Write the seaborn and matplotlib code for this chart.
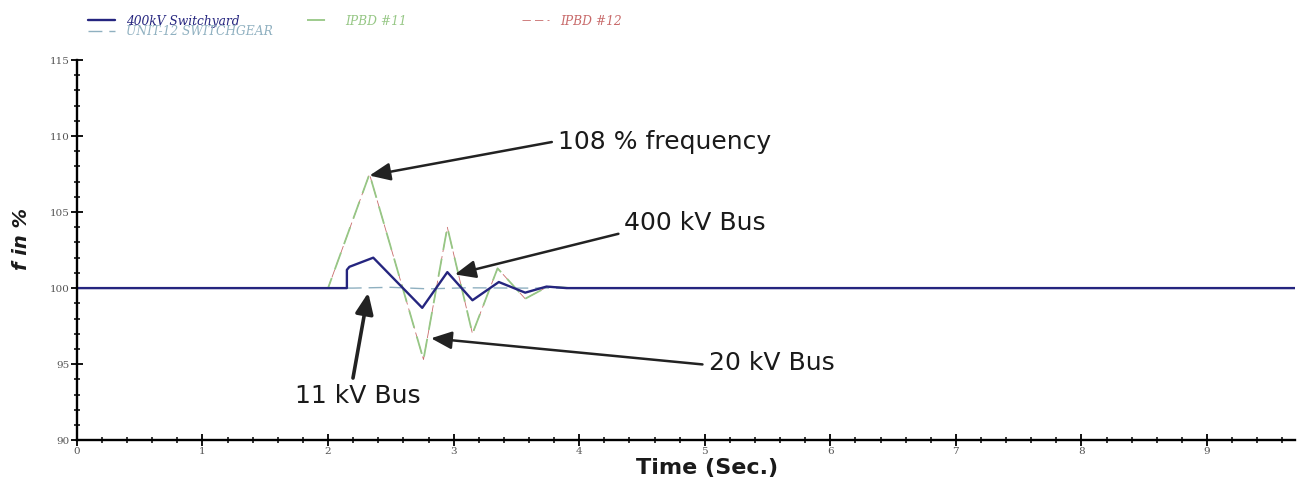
import numpy as np
import pandas as pd
import matplotlib
matplotlib.use("Agg")
import matplotlib.pyplot as plt
from matplotlib.ticker import MultipleLocator
import seaborn as sns

# ---- data ----
t_400kv = [0.0, 2.15, 2.15, 2.17, 2.36, 2.75, 2.95, 3.15, 3.36, 3.57, 3.74, 3.90, 9.70]
f_400kv = [100.0, 100.0, 101.2, 101.4, 102.0, 98.7, 101.05, 99.2, 100.4, 99.7, 100.1, 100.0, 100.0]

t_unit12 = [0.0, 2.2, 2.5, 2.8, 3.1, 3.5, 9.70]
f_unit12 = [100.0, 100.0, 100.05, 99.95, 100.02, 100.0, 100.0]

t_ipbd11 = [0.0, 2.00, 2.33, 2.76, 2.95, 3.15, 3.35, 3.57, 3.75, 3.95, 9.70]
f_ipbd11 = [100.0, 100.0, 107.5, 95.3, 104.0, 97.0, 101.3, 99.3, 100.1, 100.0, 100.0]

t_ipbd12 = [0.0, 2.00, 2.33, 2.76, 2.95, 3.15, 3.35, 3.57, 3.75, 3.95, 9.70]
f_ipbd12 = [100.0, 100.0, 107.5, 95.3, 104.0, 97.0, 101.3, 99.3, 100.1, 100.0, 100.0]

x_ticks = [0, 1, 2, 3, 4, 5, 6, 7, 8, 9]
y_ticks = [90, 95, 100, 105, 110, 115]

annotations = [
    # label, target (t, f), text position (t, f)
    ("108 % frequency", (2.33, 107.4), (3.83, 109.6)),
    ("400 kV Bus", (3.01, 100.9), (4.36, 104.3)),
    ("20 kV Bus", (2.82, 96.7), (5.03, 95.1)),
    ("11 kV Bus", (2.32, 99.7), (2.24, 92.9)),
]

sns.set_theme(style="white")
plt.rcParams["font.family"] = ["DejaVu Sans"]

fig = plt.figure(figsize=(13.04, 4.8), dpi=100)
ax = fig.add_axes([0.059, 0.083, 0.934, 0.792])

df12 = pd.DataFrame({"t": t_ipbd12, "f": f_ipbd12})
df11 = pd.DataFrame({"t": t_ipbd11, "f": f_ipbd11})
dfu = pd.DataFrame({"t": t_unit12, "f": f_unit12})
df4 = pd.DataFrame({"t": t_400kv, "f": f_400kv})

dash = (0, (10, 5))
sns.lineplot(data=df12, x="t", y="f", ax=ax, estimator=None, sort=False,
             color="#c86a6a", lw=0.6, linestyle=dash, label="IPBD #12")
sns.lineplot(data=df11, x="t", y="f", ax=ax, estimator=None, sort=False,
             color="#96c785", lw=1.3, linestyle=dash, label="IPBD #11")
sns.lineplot(data=dfu, x="t", y="f", ax=ax, estimator=None, sort=False,
             color="#8fb0c0", lw=1.0, linestyle=dash, label="UNIT-12 SWITCHGEAR")
sns.lineplot(data=df4, x="t", y="f", ax=ax, estimator=None, sort=False,
             color="#25257f", lw=1.7, label="400kV Switchyard")

ax.get_legend().remove()
handles, labels = ax.get_legend_handles_labels()
hmap = dict(zip(labels, handles))

leg_kw = dict(frameon=False, prop={"family": "DejaVu Serif", "style": "italic", "size": 8.8},
              labelcolor="linecolor", handlelength=2.2, handletextpad=0.9,
              labelspacing=-0.2, borderpad=0, loc="upper left")
fig.legend([hmap["400kV Switchyard"], hmap["UNIT-12 SWITCHGEAR"]],
           ["400kV Switchyard", "UNIT-12 SWITCHGEAR"], bbox_to_anchor=(0.063, 0.982), **leg_kw)
fig.legend([hmap["IPBD #11"]], ["IPBD #11"], bbox_to_anchor=(0.231, 0.982), **leg_kw)
fig.legend([hmap["IPBD #12"]], ["IPBD #12"], bbox_to_anchor=(0.396, 0.982), **leg_kw)

ax.set_xlim(0, 9.7)
ax.set_ylim(90, 115)
ax.set_xticks(x_ticks)
ax.set_yticks(y_ticks)
ax.xaxis.set_minor_locator(MultipleLocator(0.2))
ax.yaxis.set_minor_locator(MultipleLocator(1))
ax.tick_params(axis="both", which="major", direction="inout", length=8, width=1.3,
               color="black", labelsize=7.5, labelcolor="#555555", pad=1)
ax.tick_params(axis="both", which="minor", direction="inout", length=4.5, width=1.1, color="black")
ax.tick_params(axis="x", which="both", bottom=True)
ax.tick_params(axis="y", which="both", left=True)
for lbl in ax.get_xticklabels() + ax.get_yticklabels():
    lbl.set_fontfamily("DejaVu Serif")

for side in ["top", "right"]:
    ax.spines[side].set_visible(False)
for side in ["left", "bottom"]:
    ax.spines[side].set_color("black")
    ax.spines[side].set_linewidth(1.7)
ax.grid(False)

ax.set_xlabel("Time (Sec.)", fontsize=16, fontweight="bold", color="#1a1a1a")
ax.xaxis.set_label_coords(0.517, -0.048)
ax.set_ylabel("f in %", fontsize=14, fontweight="bold", fontstyle="italic", color="#1a1a1a")
ax.yaxis.set_label_coords(-0.038, 0.53)

relpos = {"108 % frequency": (0, 0.55), "400 kV Bus": (0, 0.1),
          "20 kV Bus": (0, 0.4), "11 kV Bus": (0.45, 1.0)}
for label, xy, xytext in annotations:
    thick = label == "11 kV Bus"
    ax.annotate(label, xy=xy, xytext=xytext, textcoords="data",
                ha="left" if not thick else "center", va="center",
                fontsize=18, color="#1a1a1a",
                arrowprops=dict(arrowstyle="-|>,head_length=0.7,head_width=0.3",
                                color="#222222", lw=2.6 if thick else 1.8,
                                relpos=relpos[label], shrinkA=2, shrinkB=0))

fig.savefig("out.png", dpi=100, facecolor="white")
